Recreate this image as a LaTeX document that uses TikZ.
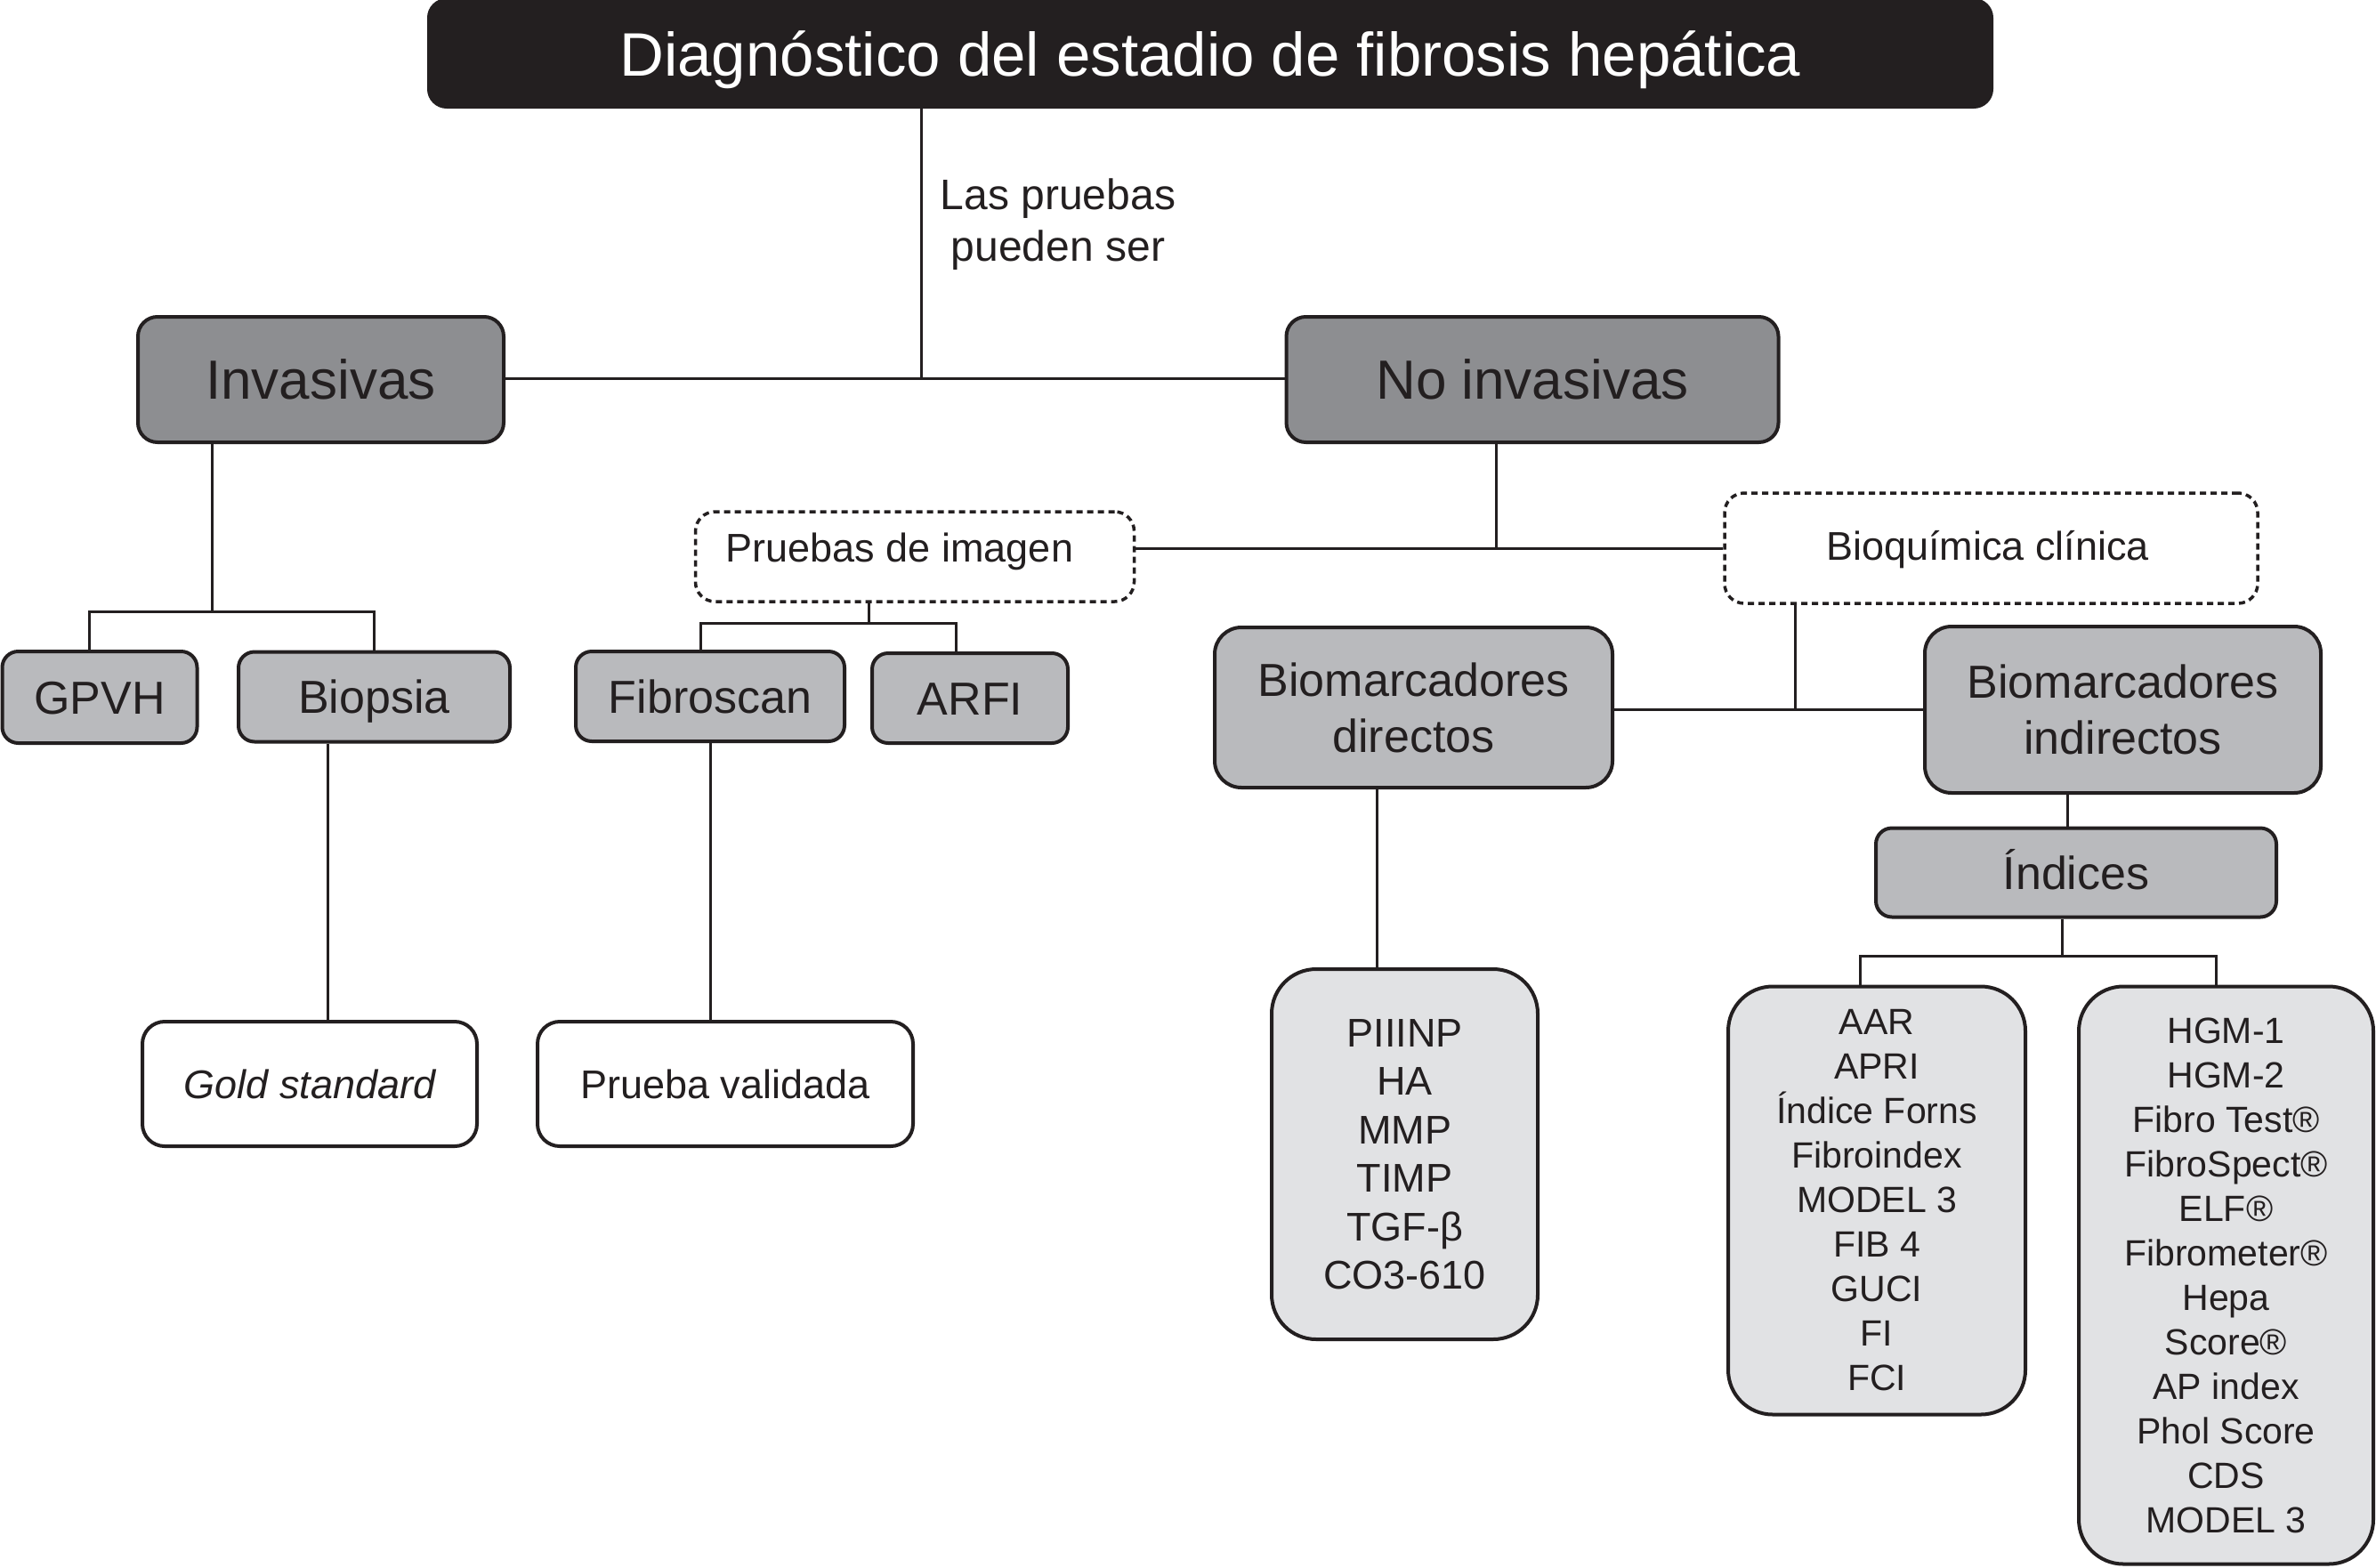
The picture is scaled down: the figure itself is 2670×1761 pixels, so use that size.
\documentclass[tikz,border=0pt]{standalone}
\usepackage{fontspec}
\setmainfont{Liberation Sans}
\newcommand\myfs[2]{\fontsize{#1}{#2}\selectfont}
\definecolor{ink}{HTML}{231F20}
\definecolor{dk}{HTML}{8D8E91}
\definecolor{md}{HTML}{B9BABD}
\definecolor{lt}{HTML}{E1E2E4}
\tikzset{
  conn/.style={line width=3pt, draw=ink},
  bx/.style={draw=ink, line width=4pt, rounded corners=18pt, inner sep=0pt, align=center, text=ink},
  dashbx/.style={bx, line width=3.5pt, dash pattern=on 7pt off 5pt, rounded corners=22pt, fill=white},
}
\begin{document}
\begin{tikzpicture}[x=1pt, y=-1pt]
\useasboundingbox (0,0) rectangle (2670,1761);
\fill[white] (0,0) rectangle (2670,1761);

% nodes
\node[bx, fill=ink, minimum width=1756pt, minimum height=120pt, rounded corners=20pt, text=white,
      font=\myfs{69}{80}, text height=50pt, text depth=0pt] (title) at (1360,60)
      {Diagnóstico del estadio de fibrosis hepática};

\node[align=center, text=ink, font=\myfs{48}{58}] (lab) at (1189,252) {Las pruebas\\pueden ser};

\node[bx, fill=dk, rounded corners=22pt, minimum width=411pt, minimum height=141pt,
      font=\myfs{62}{70}, text height=44.6pt, text depth=0pt] (inv) at (360.5,426.5) {Invasivas};
\node[bx, fill=dk, rounded corners=22pt, minimum width=553pt, minimum height=141pt,
      font=\myfs{62}{70}, text height=44.6pt, text depth=0pt] (noinv) at (1722,426.5) {No invasivas};

\node[bx, fill=md, minimum width=219pt, minimum height=103pt,
      font=\myfs{52}{60}, text height=37.4pt, text depth=0pt] (gpvh) at (112,783.5) {GPVH};
\node[bx, fill=md, minimum width=305pt, minimum height=101pt,
      font=\myfs{52}{60}, text height=37.4pt, text depth=0pt] (bio) at (420.5,783) {Biopsia};
\node[bx, fill=md, minimum width=302pt, minimum height=101pt,
      font=\myfs{52}{60}, text height=37.4pt, text depth=0pt] (fib) at (798,782.5) {Fibroscan};
\node[bx, fill=md, minimum width=220pt, minimum height=101pt,
      font=\myfs{52}{60}, text height=37.4pt, text depth=0pt] (arfi) at (1090,784.5) {ARFI};

\node[bx, fill=white, rounded corners=25pt, minimum width=376pt, minimum height=140pt,
      font=\myfs{45}{54}\itshape, text height=32.4pt, text depth=0pt] (gold) at (348,1218) {Gold standard};
\node[bx, fill=white, rounded corners=25pt, minimum width=422pt, minimum height=140pt,
      font=\myfs{45}{54}, text height=32.4pt, text depth=0pt] (pv) at (815,1218) {Prueba validada};

\node[dashbx, minimum width=493pt, minimum height=101pt,
      font=\myfs{45}{54}, text height=32.4pt, text depth=0pt] (img) at (1028,625.5)
      {\raisebox{10pt}{Pruebas de imagen}\hspace*{34pt}};
\node[dashbx, minimum width=599pt, minimum height=124pt,
      font=\myfs{45}{54}, text height=32.4pt, text depth=0pt] (bioq) at (2237.5,616)
      {\raisebox{3pt}{Bioquímica clínica}\hspace*{8pt}};

\node[bx, fill=md, rounded corners=30pt, minimum width=447pt, minimum height=180pt,
      font=\myfs{52}{63}] (dir) at (1588.5,795) {Biomarcadores\\directos};
\node[bx, fill=md, rounded corners=30pt, minimum width=445pt, minimum height=187pt,
      font=\myfs{52}{63}] (ind) at (2385.5,797.5) {Biomarcadores\\indirectos};

\node[bx, fill=md, minimum width=450pt, minimum height=100pt,
      font=\myfs{52}{60}, text height=37.4pt, text depth=0pt] (indices) at (2333,980.5) {Índices};

\node[bx, fill=lt, rounded corners=50pt, minimum width=299pt, minimum height=416pt,
      font=\myfs{45}{54.5}] (dlist) at (1578.5,1297)
      {PIIINP\\HA\\MMP\\TIMP\\TGF-β\\CO3-610};
\node[bx, fill=lt, rounded corners=50pt, minimum width=334pt, minimum height=481pt,
      font=\myfs{41}{50}] (llist) at (2109,1349)
      {AAR\\APRI\\Índice Forns\\Fibroindex\\MODEL 3\\FIB 4\\GUCI\\FI\\FCI};
\node[bx, fill=lt, rounded corners=50pt, minimum width=331pt, minimum height=649pt,
      font=\myfs{41}{50}] (rlist) at (2501.5,1433)
      {HGM-1\\HGM-2\\Fibro Test®\\FibroSpect®\\ELF®\\Fibrometer®\\Hepa\\Score®\\AP index\\Phol Score\\CDS\\MODEL 3};

% junction coordinates
\coordinate (j0) at (1035,425);
\coordinate (j1) at (238,687);
\coordinate (j1a) at (100,687);
\coordinate (j1b) at (420,687);
\coordinate (j2) at (368,1000);
\coordinate (j3) at (976,700);
\coordinate (j3a) at (787,700);
\coordinate (j3b) at (1074.5,700);
\coordinate (j4) at (1681,616);
\coordinate (j5) at (2017,797);
\coordinate (j6) at (1547,1000);
\coordinate (j7) at (2323,900);
\coordinate (j8) at (2317,1074);
\coordinate (j8a) at (2090,1074);
\coordinate (j8b) at (2490,1074);

% connectors
\draw[conn] (title.south -| j0) -- (j0);
\draw[conn] (inv.east |- j0) -- (noinv.west |- j0);
\draw[conn] (inv.south -| j1) -- (j1);
\draw[conn] (gpvh.north -| j1a) -- (j1a) -- (j1b) -- (bio.north -| j1b);
\draw[conn] (bio.south -| j2) -- (gold.north -| j2);
\draw[conn] (img.south -| j3) -- (j3);
\draw[conn] (fib.north -| j3a) -- (j3a) -- (j3b) -- (arfi.north -| j3b);
\draw[conn] (fib.south) -- (pv.north -| fib.south);
\draw[conn] (bioq.west) -- (bioq.west -| img.east);
\draw[conn] (noinv.south -| j4) -- (j4);
\draw[conn] (bioq.south -| j5) -- (j5);
\draw[conn] (dir.east |- j5) -- (ind.west |- j5);
\draw[conn] (dir.south -| j6) -- (dlist.north -| j6);
\draw[conn] (ind.south -| j7) -- (indices.north -| j7);
\draw[conn] (indices.south -| j8) -- (j8);
\draw[conn] (llist.north -| j8a) -- (j8a) -- (j8b) -- (rlist.north -| j8b);
\end{tikzpicture}
\end{document}
